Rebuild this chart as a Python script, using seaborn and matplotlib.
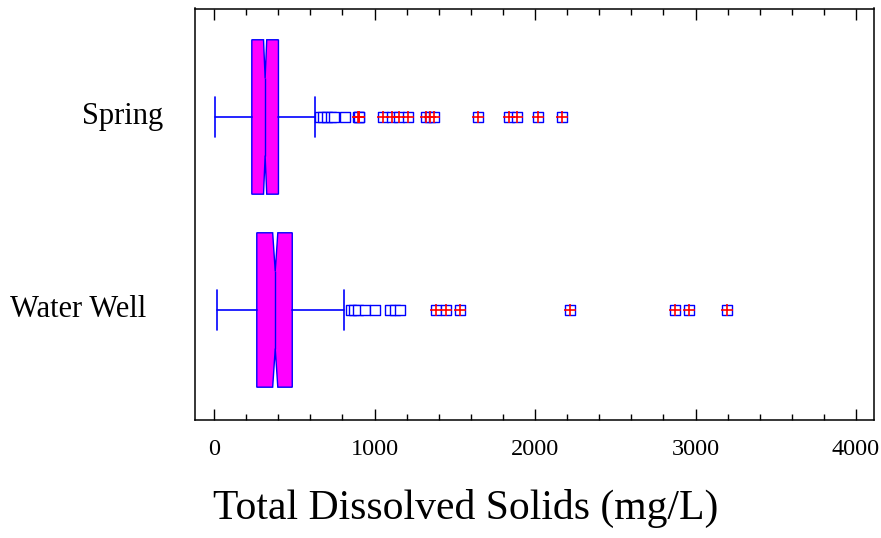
import pandas as pd
import matplotlib
matplotlib.use("Agg")
import matplotlib.pyplot as plt
import seaborn as sns

# summary statistics (mg/L)
groups = ["Spring", "Water Well"]
whisker_low = [5, 17]
q1 = [235, 266]
median = [318, 381]
q3 = [401, 487]
whisker_high = [626, 811]
notch_half = [10, 16]

# outside points (plain squares)
spring_mild = [660, 680, 705, 730, 750, 815]
well_mild = [850, 870, 895, 940, 1005, 1098, 1129, 1160]
# far outside points (square with plus)
spring_far = [895, 900, 905, 1050, 1110, 1155, 1210, 1320, 1345, 1370,
              1645, 1840, 1885, 2020, 2165]
well_far = [1380, 1443, 1530, 2215, 2875, 2960, 3195]

sns.set_style("white")
plt.rcParams["font.family"] = ["Liberation Serif", "DejaVu Serif"]
plt.rcParams["text.color"] = "black"
plt.rcParams["xtick.color"] = "black"
plt.rcParams["ytick.color"] = "black"
plt.rcParams["axes.labelcolor"] = "black"

fig = plt.figure(figsize=(8.81, 5.38), dpi=100)
ax = fig.add_axes([195 / 881, 1 - 420 / 538, 679 / 881, 411.5 / 538])

stats = []
for i, g in enumerate(groups):
    stats.append({
        "label": g, "whislo": whisker_low[i], "q1": q1[i], "med": median[i],
        "q3": q3[i], "whishi": whisker_high[i],
        "cilo": median[i] - notch_half[i], "cihi": median[i] + notch_half[i],
        "fliers": [],
    })

ax.bxp(stats, positions=[0, 1], widths=0.8, vert=False, shownotches=True,
       patch_artist=True, showfliers=False,
       boxprops=dict(facecolor="#ff00ff", edgecolor="#0000ff", linewidth=1.0),
       medianprops=dict(color="#0000ff", linewidth=1.0),
       whiskerprops=dict(color="#0000ff", linewidth=1.2),
       capprops=dict(color="#0000ff", linewidth=1.2), capwidths=0.21)

rows = []
for g, vals, far in [("Spring", spring_mild, False), ("Water Well", well_mild, False),
                     ("Spring", spring_far, True), ("Water Well", well_far, True)]:
    for v in vals:
        rows.append({"value": v, "group": g, "far": far})
df = pd.DataFrame(rows)
df["pos"] = df["group"].map({g: i for i, g in enumerate(groups)})

sns.scatterplot(data=df, x="value", y="pos", marker="s", s=45,
                facecolor="white", edgecolor="#0000ff", linewidth=1.0,
                ax=ax, legend=False, zorder=3)
sns.scatterplot(data=df[df["far"]], x="value", y="pos", marker="+", s=80,
                color="#ff0000", linewidth=1.2, ax=ax, legend=False, zorder=4)

ax.set_xlim(-119, 4112)
ax.set_ylim(1.57, -0.562)
ax.set_xticks([0, 1000, 2000, 3000, 4000])
ax.set_xticks(range(0, 4001, 200), minor=True)
ax.set_yticks([])
ax.tick_params(axis="x", which="major", direction="in", length=8, width=1,
               top=True, bottom=True, labelsize=17.5, pad=14, color="black")
ax.tick_params(axis="x", which="minor", direction="in", length=4.5, width=1,
               top=True, bottom=True, color="black")
for sp in ax.spines.values():
    sp.set_color("black")
    sp.set_linewidth(1.1)

# category labels (the original is not aligned to one edge)
label_x = [-0.047, -0.072]
trans = ax.get_yaxis_transform()
for i, g in enumerate(groups):
    ax.text(label_x[i], i, g, transform=trans, ha="right", va="center",
            fontsize=22)

ax.set_ylabel("")
ax.set_xlabel("Total Dissolved Solids (mg/L)", fontsize=30)
ax.xaxis.set_label_coords(0.398, -0.168)

fig.savefig("out.png", dpi=100)
